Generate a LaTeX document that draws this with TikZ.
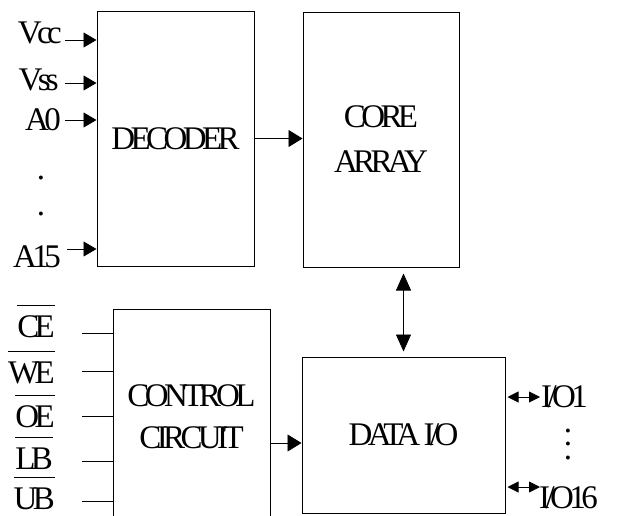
\documentclass[tikz,border=0pt]{standalone}
\usepackage{fontspec}
\newfontfamily\chipfont{Liberation Serif}[LetterSpace=-14]
\usetikzlibrary{arrows.meta}
\newcommand\ovl[1]{\vbox{\hrule height 1pt\kern 9pt\hbox{#1}}}
\begin{document}
\begin{tikzpicture}[x=1pt, y=-1pt,
  block/.style={draw, line width=1pt, inner sep=0pt, font=\chipfont\fontsize{33}{42}\selectfont},
  sig/.style={inner sep=0pt, font=\chipfont\fontsize{33}{42}\selectfont},
  wire/.style={line width=0.8pt},
  inarrow/.style={line width=0.8pt, -{Triangle[length=13pt,width=15pt]}},
  flow/.style={line width=0.8pt, -{Triangle[length=14pt,width=17pt]}},
  bothway/.style={line width=0.8pt, {Triangle[length=17pt,width=15pt]}-{Triangle[length=17pt,width=15pt]}},
  iopin/.style={line width=0.8pt, {Triangle[length=11pt,width=11pt]}-{Triangle[length=11pt,width=11pt]}}]
\useasboundingbox (0,0) rectangle (617,515);
% blocks
\node[block, minimum width=157pt, minimum height=255pt] at (175.5,138.5) (decoder) {DECODER};
\node[block, minimum width=156pt, minimum height=255pt, align=center] at (381,139.5) (core) {CORE\\[3pt]ARRAY};
\node[block, minimum width=157pt, minimum height=216pt, align=center] at (191.5,417) (control) {CONTROL\\CIRCUIT};
\node[block, minimum width=203pt, minimum height=156pt] at (403.5,435) (data) {DATA I/O};
% decoder inputs
\node[sig, anchor=base east] at (62,43) (vcc) {Vcc};
\node[sig, anchor=base east] at (59,90) (vss) {Vss};
\node[sig, anchor=base east] at (61,130) (a0) {A0};
\node[sig, anchor=base, align=center, font=\chipfont\fontsize{33}{36}\selectfont] at (41,215) (adots) {.\\.};
\node[sig, anchor=base east] at (61,267) (a15) {A15};
\coordinate (vccin) at (65,40);
\coordinate (vssin) at (65,83);
\coordinate (a0in) at (65,120);
\coordinate (a15in) at (67,249);
\draw[inarrow] (vccin) -- (vccin -| decoder.west);
\draw[inarrow] (vssin) -- (vssin -| decoder.west);
\draw[inarrow] (a0in) -- (a0in -| decoder.west);
\draw[inarrow] (a15in) -- (a15in -| decoder.west);
% control inputs
\node[sig, anchor=base east] at (55,337) (ce) {\ovl{CE}};
\node[sig, anchor=base east] at (55,383) (we) {\ovl{WE}};
\node[sig, anchor=base east] at (55,427) (oe) {\ovl{OE}};
\node[sig, anchor=base east] at (53,469) (lb) {\ovl{LB}};
\node[sig, anchor=base east] at (55,509) (ub) {\ovl{UB}};
\coordinate (cein) at (82,333);
\coordinate (wein) at (82,371);
\coordinate (oein) at (82,416);
\coordinate (lbin) at (82,461);
\coordinate (ubin) at (82,501);
\draw[wire] (cein) -- (cein -| control.west);
\draw[wire] (wein) -- (wein -| control.west);
\draw[wire] (oein) -- (oein -| control.west);
\draw[wire] (lbin) -- (lbin -| control.west);
\draw[wire] (ubin) -- (ubin -| control.west);
% data pins
\node[sig, anchor=base west] at (541,407) (io1) {I/O1};
\node[sig, anchor=base, align=center, font=\chipfont\fontsize{33}{13.5}\selectfont] at (568,459) (iodots) {.\\.\\.};
\node[sig, anchor=base west] at (539,508) (io16) {I/O16};
\coordinate (io1pin) at (540,397);
\coordinate (io16pin) at (540,487);
\draw[iopin, shorten <=2pt] (data.east |- io1pin) -- (io1pin);
\draw[iopin, shorten <=2pt] (data.east |- io16pin) -- (io16pin);
% internal paths
\coordinate (ctrlout) at (control.east |- 0,443);
\draw[flow] (decoder.east) -- (decoder.east -| core.west);
\draw[bothway, shorten <=6pt, shorten >=5pt] (data.north |- core.south) -- (data.north);
\draw[flow] (ctrlout) -- (ctrlout -| data.west);
\end{tikzpicture}
\end{document}
